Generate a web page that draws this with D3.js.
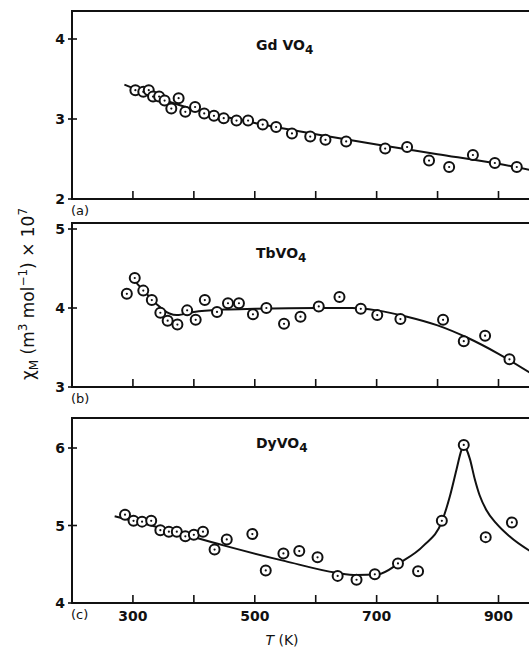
<!DOCTYPE html>
<html>
<head>
<meta charset="utf-8">
<script src="https://cdn.jsdelivr.net/npm/d3@7"></script>
<style>
  body { margin: 0; background: #fff; }
  svg text { font-family: "DejaVu Sans", sans-serif; fill: #111; }
</style>
</head>
<body>
<div id="chart"></div>
<script>
// measured points (T in K, chi_M x 10^7)
var gdT   = [304, 317, 326, 333, 343, 352, 363, 375, 386, 402, 417, 433, 449, 470, 489, 513, 535, 561, 591, 616, 650, 714, 750, 786, 819, 858, 894, 930]
var gdChi = [3.36, 3.34, 3.36, 3.28, 3.28, 3.23, 3.13, 3.26, 3.09, 3.15, 3.07, 3.04, 3.01, 2.98, 2.98, 2.93, 2.90, 2.82, 2.78, 2.74, 2.72, 2.63, 2.65, 2.48, 2.40, 2.55, 2.45, 2.40]
var gdFitT   = [286, 350, 400, 450, 500, 600, 700, 800, 900, 960]
var gdFitChi = [3.43, 3.24, 3.12, 3.03, 2.95, 2.81, 2.68, 2.56, 2.44, 2.35]

var tbT   = [290, 303, 317, 331, 345, 357, 373, 389, 403, 418, 438, 456, 474, 497, 519, 548, 575, 605, 639, 674, 701, 739, 809, 843, 878, 918]
var tbChi = [4.18, 4.38, 4.22, 4.10, 3.94, 3.84, 3.79, 3.97, 3.85, 4.10, 3.95, 4.06, 4.06, 3.92, 4.00, 3.80, 3.89, 4.02, 4.14, 3.99, 3.91, 3.86, 3.85, 3.58, 3.65, 3.35]
var tbFitT   = [303, 320, 340, 360, 372, 400, 450, 500, 600, 660, 700, 750, 800, 850, 900, 960]
var tbFitChi = [4.34, 4.20, 4.04, 3.93, 3.91, 3.95, 3.98, 3.99, 4.00, 4.00, 3.97, 3.89, 3.78, 3.62, 3.42, 3.14]

var dyT   = [287, 301, 315, 330, 345, 359, 372, 386, 400, 415, 434, 454, 496, 518, 547, 573, 603, 636, 667, 697, 735, 768, 807, 843, 879, 922]
var dyChi = [5.14, 5.06, 5.05, 5.06, 4.94, 4.92, 4.92, 4.86, 4.88, 4.92, 4.69, 4.82, 4.89, 4.42, 4.64, 4.67, 4.59, 4.35, 4.30, 4.37, 4.51, 4.41, 5.06, 6.04, 4.85, 5.04]
var dyFitT   = [270, 350, 450, 550, 634, 667, 702, 738, 777, 807, 820, 831, 839, 843, 847, 853, 861, 869, 880, 896, 918, 960]
var dyFitChi = [5.12, 4.96, 4.74, 4.54, 4.39, 4.36, 4.37, 4.52, 4.74, 5.05, 5.37, 5.72, 5.97, 6.04, 5.99, 5.86, 5.60, 5.39, 5.20, 5.03, 4.86, 4.63]

var xTicks = [300, 400, 500, 600, 700, 800, 900]
var xTickLabels = [300, 500, 700, 900]

var panels = [
  {name: "Gd VO", tag: "(a)", T: gdT, chi: gdChi, fitT: gdFitT, fit: gdFitChi, dom: [2, 4], yTicks: [2, 3, 4], top: 11, y0: 199, y1: 39, ty: 50},
  {name: "TbVO", tag: "(b)", T: tbT, chi: tbChi, fitT: tbFitT, fit: tbFitChi, dom: [3, 5], yTicks: [3, 4, 5], top: 223, y0: 387, y1: 229, ty: 258},
  {name: "DyVO", tag: "(c)", T: dyT, chi: dyChi, fitT: dyFitT, fit: dyFitChi, dom: [4, 6], yTicks: [4, 5, 6], top: 418, y0: 603, y1: 448, ty: 448}
]

var width = 529, height = 648

var svg = d3.select("#chart").append("svg")
    .attr("width", width)
    .attr("height", height)

var x = d3.scaleLinear().domain([200, 900]).range([72, 498.5])
var xRight = x(980)

panels.forEach(function(p) {
    var y = d3.scaleLinear().domain(p.dom).range([p.y0, p.y1])
    var g = svg.append("g")

    // frame (right side runs off the page)
    g.append("path")
        .attr("d", "M" + xRight + "," + p.top + "H" + x(200) + "V" + p.y0 + "H" + xRight)
        .attr("fill", "none")
        .attr("stroke", "#111")
        .attr("stroke-width", 2)

    // bottom ticks pointing up
    g.selectAll(".xt").data(xTicks).enter().append("line")
        .attr("x1", d => x(d)).attr("x2", d => x(d))
        .attr("y1", p.y0).attr("y2", p.y0 - 8)
        .attr("stroke", "#111").attr("stroke-width", 1.6)

    // left ticks
    g.selectAll(".yt").data(p.yTicks).enter().append("line")
        .attr("x1", x(200) - 4).attr("x2", x(200) + 5)
        .attr("y1", d => y(d)).attr("y2", d => y(d))
        .attr("stroke", "#111").attr("stroke-width", 1.6)

    g.selectAll(".yl").data(p.yTicks).enter().append("text")
        .attr("x", x(200) - 7).attr("y", d => y(d) + 5)
        .attr("text-anchor", "end")
        .attr("font-size", 14).attr("font-weight", "bold")
        .text(d => d)

    g.append("text")
        .attr("x", x(200) - 1).attr("y", p.y0 + 16)
        .attr("font-size", 13)
        .text(p.tag)

    var title = g.append("text")
        .attr("x", 256).attr("y", p.ty)
        .attr("font-size", 14).attr("font-weight", "bold")
    title.append("tspan").text(p.name)
    title.append("tspan").attr("dy", 4).attr("font-size", 12).text("4")

    var line = d3.line()
        .x(d => x(d[0]))
        .y(d => y(d[1]))
        .curve(d3.curveMonotoneX)

    g.append("path")
        .datum(d3.zip(p.fitT, p.fit))
        .attr("fill", "none")
        .attr("stroke", "#111")
        .attr("stroke-width", 2)
        .attr("d", line)

    var pts = g.selectAll(".pt").data(d3.zip(p.T, p.chi)).enter().append("g")
        .attr("transform", d => "translate(" + x(d[0]) + "," + y(d[1]) + ")")
    pts.append("circle").attr("r", 5)
        .attr("fill", "#fff").attr("stroke", "#111").attr("stroke-width", 2)
    pts.append("circle").attr("r", 1.1).attr("fill", "#111")
})

// x tick labels on bottom panel only
svg.selectAll(".xl").data(xTickLabels).enter().append("text")
    .attr("x", d => x(d)).attr("y", 621)
    .attr("text-anchor", "middle")
    .attr("font-size", 14).attr("font-weight", "bold")
    .text(d => d)

var xt = svg.append("text")
    .attr("x", 282).attr("y", 645)
    .attr("text-anchor", "middle")
    .attr("font-size", 14)
xt.append("tspan").attr("font-style", "italic").text("T")
xt.append("tspan").text(" (K)")

// y axis label
var yl = svg.append("text")
    .attr("transform", "translate(34,294) rotate(-90)")
    .attr("text-anchor", "middle")
    .attr("font-size", 17)
yl.append("tspan").text("\u03c7")
yl.append("tspan").attr("dy", 4).attr("font-size", 12).text("M")
yl.append("tspan").attr("dy", -4).text("  (m")
yl.append("tspan").attr("dy", -7).attr("font-size", 12).text("3")
yl.append("tspan").attr("dy", 7).text("   mol")
yl.append("tspan").attr("dy", -7).attr("font-size", 12).text("\u22121")
yl.append("tspan").attr("dy", 7).text(") \u00d7 10")
yl.append("tspan").attr("dy", -7).attr("font-size", 12).text("7")
</script>
</body>
</html>
